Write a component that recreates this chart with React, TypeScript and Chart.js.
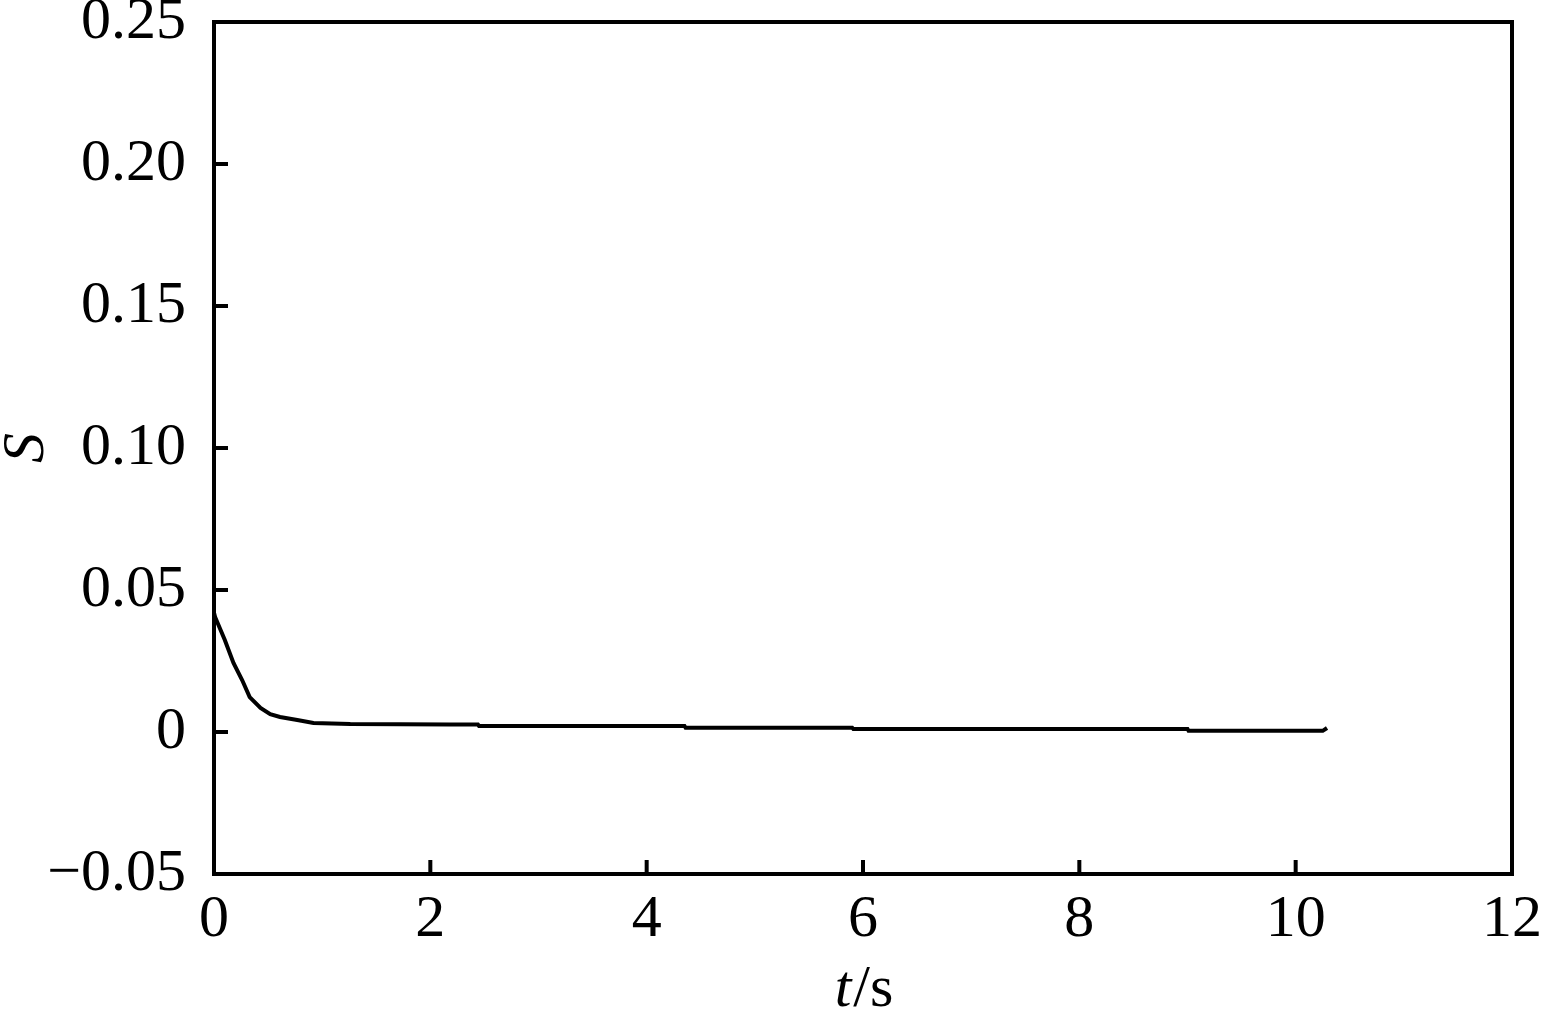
import React, { useEffect, useRef } from "react";
import { Chart, registerables } from "chart.js";

Chart.register(...registerables);

const timeValues: number[] = [0, 0.01, 0.10, 0.18, 0.26, 0.33, 0.43, 0.52, 0.61, 0.77, 0.92, 1.26, 2.18, 2.44, 2.45, 4.35, 4.36, 5.90, 5.91, 9.00, 9.01, 10.25, 10.29];
const sValues: number[] = [0.042, 0.0405, 0.0324, 0.0243, 0.0183, 0.0123, 0.0085, 0.0063, 0.0053, 0.0042, 0.0032, 0.0028, 0.0026, 0.0026, 0.0021, 0.0021, 0.0015, 0.0015, 0.0011, 0.0011, 0.0004, 0.0004, 0.0014];
const xTicks: number[] = [0, 2, 4, 6, 8, 10, 12];
const yTicks: number[] = [-0.05, 0, 0.05, 0.10, 0.15, 0.20, 0.25];
const xTitleItalic = "t";
const xTitleRest = "/s";
const yTitle = "S";

const FONT = '"Liberation Serif", "Times New Roman", serif';

const framePlugin = {
  id: "framePlugin",
  afterDraw(chart: any) {
    const { ctx, chartArea } = chart;
    const { left, right, top, bottom } = chartArea;
    const xs = chart.scales.x;
    const ys = chart.scales.y;
    ctx.save();
    ctx.strokeStyle = "#000";
    ctx.lineWidth = 4;
    ctx.beginPath();
    ctx.rect(left, top, right - left, bottom - top);
    ctx.stroke();
    ctx.beginPath();
    const tl = 14;
    for (const v of xTicks) {
      const px = xs.getPixelForValue(v);
      ctx.moveTo(px, bottom);
      ctx.lineTo(px, bottom - tl);
    }
    for (const v of yTicks) {
      const py = ys.getPixelForValue(v);
      ctx.moveTo(left, py);
      ctx.lineTo(left + tl, py);
    }
    ctx.stroke();

    ctx.fillStyle = "#000";
    ctx.textBaseline = "alphabetic";
    const italic = `italic 60px ${FONT}`;
    const normal = `60px ${FONT}`;
    ctx.font = italic;
    const w1 = ctx.measureText(xTitleItalic).width;
    ctx.font = normal;
    const w2 = ctx.measureText(xTitleRest).width;
    const cx = (left + right) / 2;
    const startX = cx - (w1 + w2) / 2;
    ctx.textAlign = "left";
    ctx.font = italic;
    ctx.fillText(xTitleItalic, startX, 1006);
    ctx.font = normal;
    ctx.fillText(xTitleRest, startX + w1 + 2, 1006);

    ctx.translate(43, (top + bottom) / 2);
    ctx.rotate(-Math.PI / 2);
    ctx.textAlign = "center";
    ctx.font = italic;
    ctx.fillText(yTitle, 0, 0);
    ctx.restore();
  },
};

function fmtY(v: number): string {
  if (Math.abs(v) < 1e-9) return "0";
  return (v < 0 ? "\u2212" : "") + Math.abs(v).toFixed(2);
}

export default function App() {
  const ref = useRef<HTMLCanvasElement | null>(null);
  useEffect(() => {
    if (!ref.current) return;
    const data = timeValues.map((t, i) => ({ x: t, y: sValues[i] }));
    const chart = new Chart(ref.current, {
      type: "line",
      data: {
        datasets: [
          {
            data,
            borderColor: "#000",
            borderWidth: 4,
            pointRadius: 0,
            tension: 0,
            fill: false,
          },
        ],
      },
      options: {
        animation: false,
        responsive: false,
        maintainAspectRatio: false,
        layout: { padding: { top: 22, right: 33, left: 0, bottom: 0 } },
        plugins: { legend: { display: false }, tooltip: { enabled: false } },
        scales: {
          x: {
            type: "linear",
            min: 0,
            max: 12,
            afterBuildTicks: (s: any) => {
              s.ticks = xTicks.map((v) => ({ value: v }));
            },
            afterFit: (s: any) => {
              s.height = 137;
              s.paddingLeft = 0;
              s.paddingRight = 0;
            },
            grid: { display: false },
            border: { display: false },
            ticks: {
              color: "#000",
              font: { family: FONT, size: 60 },
              padding: 2,
              maxRotation: 0,
              autoSkip: false,
              callback: (v: any) => String(v),
            },
          },
          y: {
            type: "linear",
            min: -0.05,
            max: 0.25,
            afterBuildTicks: (s: any) => {
              s.ticks = yTicks.map((v) => ({ value: v }));
            },
            afterFit: (s: any) => {
              s.width = 214;
              s.paddingTop = 0;
              s.paddingBottom = 0;
            },
            grid: { display: false },
            border: { display: false },
            ticks: {
              color: "#000",
              font: { family: FONT, size: 60 },
              padding: 20,
              autoSkip: false,
              callback: (v: any) => fmtY(Number(v)),
            },
          },
        },
      },
      plugins: [framePlugin],
    });
    return () => chart.destroy();
  }, []);
  return (
    <div style={{ position: "fixed", left: 0, top: 0, width: 1545, height: 1011, background: "#fff" }}>
      <canvas ref={ref} width={1545} height={1011} style={{ width: 1545, height: 1011, display: "block" }} />
    </div>
  );
}
